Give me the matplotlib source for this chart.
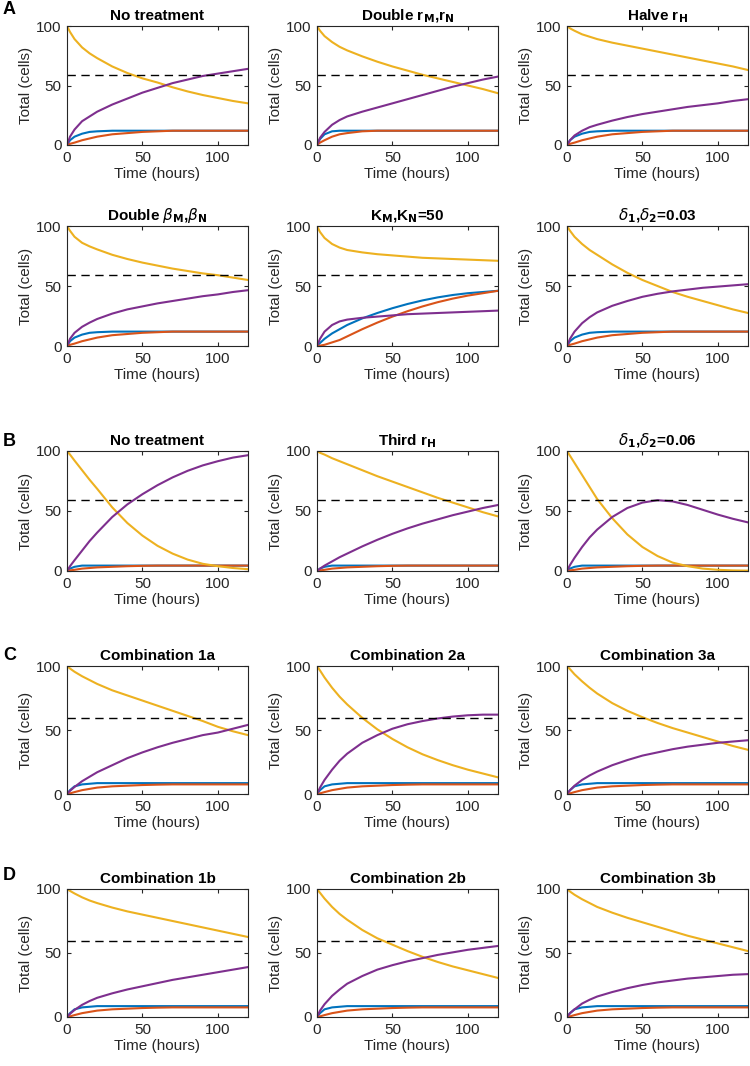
import matplotlib.pyplot as plt

plt.rcParams['font.family'] = ['Liberation Sans', 'DejaVu Sans']
plt.rcParams['mathtext.fontset'] = 'dejavusans'

# time points (hours)
t = [0, 2, 5, 10, 15, 20, 30, 40, 50, 60, 70, 80, 90, 100, 110, 120]
threshold = 59

# shared small populations (blue / red)
blu12 = [0, 4, 7, 9.5, 11, 11.5, 12, 12, 12, 12, 12, 12, 12, 12, 12, 12]
red12 = [0, 1, 2, 4, 5.5, 7, 9, 10, 11, 11.5, 12, 12, 12, 12, 12, 12]
blu12f = [0, 5, 9, 11.5, 12, 12, 12, 12, 12, 12, 12, 12, 12, 12, 12, 12]
red12f = [0, 2, 4, 7, 9, 10, 11.5, 12, 12, 12, 12, 12, 12, 12, 12, 12]
blu4 = [0, 2, 3.5, 4.5, 4.5, 4.5, 4.5, 4.5, 4.5, 4.5, 4.5, 4.5, 4.5, 4.5, 4.5, 4.5]
red4 = [0, 0.5, 1, 2, 2.5, 3, 3.5, 4, 4.3, 4.5, 4.5, 4.5, 4.5, 4.5, 4.5, 4.5]
blu9 = [0, 3, 6, 7.5, 8, 8.5, 8.5, 8.5, 8.5, 8.5, 8.5, 8.5, 8.5, 8.5, 8.5, 8.5]
red8 = [0, 0.5, 1.5, 3, 4, 5, 6, 6.5, 7, 7.3, 7.5, 7.5, 7.5, 7.5, 7.5, 7.5]

# A
yel_A1 = [100, 95, 89, 82, 77, 73, 66, 60.5, 56, 52.5, 48.5, 45, 42, 39.5, 37, 35]
pur_A1 = [0, 7, 13, 20, 24, 28, 34, 39, 44, 48, 52, 55, 58, 60, 62, 64]
yel_A2 = [100, 96, 91.5, 86.5, 82.5, 79.5, 74.5, 70, 66, 62.5, 59, 56, 53, 50, 47, 43.5]
pur_A2 = [0, 6, 11, 17, 21, 24, 28, 31.5, 35, 38.5, 42, 45.5, 49, 52, 55, 57.5]
yel_A3 = [100, 98, 96, 93, 91, 89, 86, 83.5, 81, 78.5, 76, 73.5, 71, 68.5, 66, 63]
pur_A3 = [0, 4, 8, 12, 15, 17, 20.5, 23.5, 26, 28, 30, 32, 33.5, 35, 37, 38.5]
yel_A4 = [100, 96, 91, 86, 83, 80.5, 76, 72.5, 69.5, 67, 64.5, 62.5, 60.5, 59, 57, 55]
pur_A4 = [0, 6, 11, 16, 19.5, 22.5, 27, 30.5, 33, 35.5, 37.5, 39.5, 41.5, 43, 45, 46.5]
yel_A5 = [100, 95, 90, 85, 82, 80, 78, 76.5, 75.5, 74.5, 73.5, 73, 72.5, 72, 71.5, 71]
pur_A5 = [0, 6, 12, 17.5, 20.5, 22, 23.5, 24.5, 25.5, 26.5, 27, 27.5, 28, 28.5, 29, 29.5]
blu_A5 = [0, 2.5, 6, 10.5, 14, 17.5, 23, 27.5, 31.5, 35, 38, 40.5, 42.5, 44, 45, 46]
red_A5 = [0, 0.3, 1, 3, 5, 8, 14, 19.5, 24.5, 29, 33, 36.5, 39.5, 42, 44, 46]
yel_A6 = [100, 96, 91, 85, 80, 76, 68, 61, 55, 50, 45, 41, 37.5, 34, 30.5, 27.5]
pur_A6 = [0, 6, 12, 19, 24, 28, 33.5, 37.5, 41, 43.5, 45.5, 47, 48.5, 49.5, 50.5, 51.5]

# B
yel_B1 = [100, 97, 92, 84, 76, 68.5, 53, 40, 29.5, 21, 14.5, 9.5, 6, 4, 2.5, 1.5]
pur_B1 = [0, 4, 9, 17, 25, 32, 45, 55.5, 64, 71.5, 78, 83.5, 88, 91.5, 94.5, 96.5]
yel_B2 = [100, 98.5, 97, 94, 91.5, 89, 84, 79, 74.5, 70, 65.5, 61, 57, 53, 49, 45.5]
pur_B2 = [0, 2, 4.5, 8, 11.5, 14.5, 20.5, 26, 31, 35.5, 39.5, 43, 46.5, 49.5, 52.5, 55]
yel_B3 = [100, 96, 90, 80, 70, 60, 44, 30.5, 20, 12.5, 7, 4, 2, 1, 0.5, 0.3]
pur_B3 = [0, 5, 11, 20, 28, 34.5, 45, 52.5, 57, 59, 58, 55, 51, 47, 43.5, 40.5]

# C
yel_C1 = [100, 98, 95.5, 92, 89, 86, 81, 77, 73, 69, 65, 61, 57, 52.5, 49, 46]
pur_C1 = [0, 2.5, 5.5, 10, 13.5, 17, 22.5, 28, 32.5, 36.5, 40, 43, 46, 48, 51, 54]
yel_C2 = [100, 96.5, 91, 83, 76, 70, 59.5, 50.5, 43, 36.5, 31, 26.5, 22.5, 19, 16, 13]
pur_C2 = [0, 5, 11, 19, 26, 31.5, 40, 46, 51, 54.5, 57, 59, 60.5, 61.5, 62, 62]
yel_C3 = [100, 97.5, 93.5, 88, 83, 78.5, 71, 65, 60, 55.5, 51.5, 48, 44.5, 41, 37.5, 34.5]
pur_C3 = [0, 3, 6.5, 11, 14.5, 17.5, 22.5, 26.5, 30, 32.5, 35, 37, 38.5, 40, 41, 42]

# D
yel_D1 = [100, 98.5, 96.5, 93.5, 91, 89, 85.5, 82.5, 80, 77.5, 75, 72.5, 70, 67.5, 65, 62.5]
pur_D1 = [0, 2.5, 5.5, 9.5, 12.5, 15, 18.5, 21.5, 24, 26.5, 29, 31, 33, 35, 37, 39]
yel_D2 = [100, 97, 92.5, 86, 80.5, 76, 68, 61.5, 56.5, 51.5, 47, 43, 39.5, 36.5, 33.5, 30.5]
pur_D2 = [0, 5, 10, 16.5, 21.5, 26, 32, 37, 40.5, 43.5, 46, 48.5, 50.5, 52.5, 54, 55.5]
yel_D3 = [100, 98, 95.5, 92, 89, 86, 81.5, 77.5, 74, 70.5, 67, 63.5, 60.5, 57.5, 54.5, 51.5]
pur_D3 = [0, 3, 6, 10.5, 13.5, 16, 19.5, 22.5, 25, 27, 28.5, 30, 31, 32, 33, 33.5]

titles = [
    ['No treatment', r'Double r$_{\mathbf{M}}$,r$_{\mathbf{N}}$', r'Halve r$_{\mathbf{H}}$'],
    [r'Double $\beta_{\mathbf{M}}$,$\beta_{\mathbf{N}}$', r'K$_{\mathbf{M}}$,K$_{\mathbf{N}}$=50',
     r'$\delta_{\mathbf{1}}$,$\delta_{\mathbf{2}}$=0.03'],
    ['No treatment', r'Third r$_{\mathbf{H}}$', r'$\delta_{\mathbf{1}}$,$\delta_{\mathbf{2}}$=0.06'],
    ['Combination 1a', 'Combination 2a', 'Combination 3a'],
    ['Combination 1b', 'Combination 2b', 'Combination 3b'],
]

panels = [
    [(yel_A1, pur_A1, blu12, red12), (yel_A2, pur_A2, blu12f, red12f), (yel_A3, pur_A3, blu12, red12)],
    [(yel_A4, pur_A4, blu12, red12), (yel_A5, pur_A5, blu_A5, red_A5), (yel_A6, pur_A6, blu12, red12)],
    [(yel_B1, pur_B1, blu4, red4), (yel_B2, pur_B2, blu4, red4), (yel_B3, pur_B3, blu4, red4)],
    [(yel_C1, pur_C1, blu9, red8), (yel_C2, pur_C2, blu9, red8), (yel_C3, pur_C3, blu9, red8)],
    [(yel_D1, pur_D1, blu9, red8), (yel_D2, pur_D2, blu9, red8), (yel_D3, pur_D3, blu9, red8)],
]

c_yel = '#EDB120'
c_pur = '#7E2F8E'
c_blu = '#0072BD'
c_red = '#D95319'
gray = '#262626'

W, H = 750, 1066
fig = plt.figure(figsize=(W / 100, H / 100), dpi=100)

row_top = [26, 226, 451, 666, 889]
row_bot = [145, 346, 571, 794, 1017]
col_left = [67, 317, 567]
ax_w = 181

for r in range(5):
    for c in range(3):
        ax = fig.add_axes([col_left[c] / W, 1 - row_bot[r] / H, ax_w / W,
                           (row_bot[r] - row_top[r]) / H])
        yel, pur, blu, red = panels[r][c]
        ax.plot(t, blu, color=c_blu, lw=1.5)
        ax.plot(t, red, color=c_red, lw=1.5)
        ax.plot(t, yel, color=c_yel, lw=1.5)
        ax.plot(t, pur, color=c_pur, lw=1.5)
        ax.axhline(threshold, color='k', lw=1, ls=(0, (6, 4)))
        ax.set_xlim(0, 120)
        ax.set_ylim(0, 100)
        ax.set_xticks([0, 50, 100])
        ax.set_yticks([0, 50, 100])
        ax.tick_params(direction='in', top=True, right=True, length=3,
                       labelsize=11, colors=gray, pad=4)
        for s in ax.spines.values():
            s.set_color(gray)
            s.set_linewidth(0.8)
        ax.set_title(titles[r][c], fontsize=11, fontweight='bold', pad=4)
        ax.set_xlabel('Time (hours)', fontsize=11, color=gray, labelpad=2)
        ax.set_ylabel('Total (cells)', fontsize=11, color=gray, labelpad=2)

for lab, y in [('A', 9), ('B', 441), ('C', 655), ('D', 875)]:
    fig.text(3 / W, 1 - y / H, lab, fontsize=13, fontweight='bold', va='center', ha='left')

fig.savefig('out.png', dpi=100)
